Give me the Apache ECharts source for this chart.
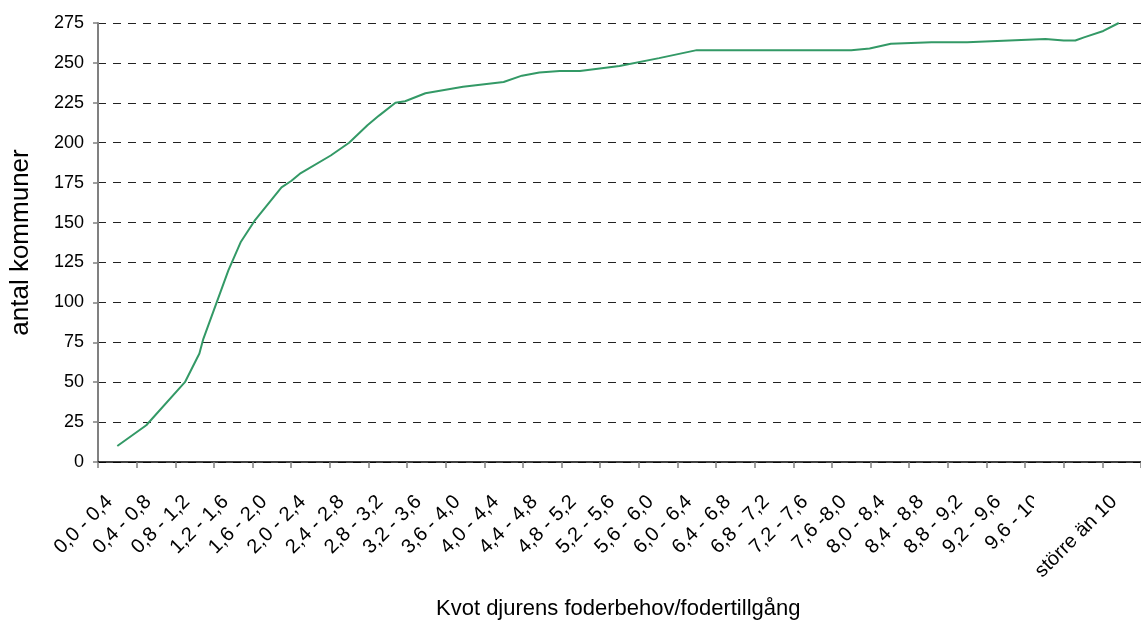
<!DOCTYPE html>
<html>
<head>
<meta charset="utf-8">
<script src="https://cdn.jsdelivr.net/npm/echarts@6/dist/echarts.min.js"></script>
<style>
  html, body { margin: 0; padding: 0; background: #fff; }
  #chart { width: 1141px; height: 624px; }
</style>
</head>
<body>
<div id="chart"></div>
<script>
// category labels along the x axis (index 25 has no label in the source)
const categories = [
  '0,0 - 0,4', '0,4 - 0,8', '0,8 - 1,2', '1,2 - 1,6', '1,6 - 2,0', '2,0 - 2,4',
  '2,4 - 2,8', '2,8 - 3,2', '3,2 - 3,6', '3,6 - 4,0', '4,0 - 4,4', '4,4 - 4,8',
  '4,8 - 5,2', '5,2 - 5,6', '5,6 - 6,0', '6,0 - 6,4', '6,4 - 6,8', '6,8 - 7,2',
  '7,2 - 7,6', '7,6 -8,0', '8,0 - 8,4', '8,4 - 8,8', '8,8 - 9,2', '9,2 - 9,6',
  '9,6 - 10', '', 'större än 10'
]

// cumulative curve: quotient (x) and number of municipalities (y)
const kvot = [
  0.2, 0.5, 0.9, 1.05, 1.09, 1.35, 1.48, 1.62, 1.9, 2.0,
  2.1, 2.41, 2.6, 2.79, 2.91, 3.08, 3.18, 3.39, 3.78, 4.2,
  4.39, 4.57, 4.78, 4.99, 5.4, 5.81, 6.2, 7.8, 7.99, 8.21,
  8.63, 9.0, 9.81, 10.0, 10.12, 10.21, 10.41, 10.57
]
const antal = [
  10, 23, 50, 68, 77, 120, 138, 151, 172, 176,
  181, 192, 200, 211, 217, 225, 226, 231, 235, 238,
  242, 244, 245, 245, 248, 253, 258, 258, 259, 262,
  263, 263, 265, 264, 264, 266, 270, 275
]

const yMax = 275
const yStep = 25

const chart = echarts.init(document.getElementById('chart'))

chart.setOption({
  animation: false,
  backgroundColor: '#fff',
  textStyle: { fontFamily: 'Liberation Sans, Arial, sans-serif' },
  grid: { left: 96, right: -3, top: 23, bottom: 162 },
  title: {
    text: 'Kvot djurens foderbehov/fodertillgång',
    left: 436,
    top: 598,
    padding: 0,
    textStyle: { fontSize: 22, fontWeight: 'normal', color: '#000' }
  },
  xAxis: [
    {
      type: 'category',
      data: categories,
      boundaryGap: true,
      axisLine: { lineStyle: { color: '#000', width: 1.5 } },
      axisTick: { show: true, length: 6, lineStyle: { color: '#808080', width: 1.5 } },
      axisLabel: {
        interval: 0, rotate: 45, fontSize: 20, color: '#000',
        margin: 29, padding: [0, 11, 0, 0]
      },
      splitLine: { show: false }
    },
    {
      type: 'value',
      min: 0,
      max: categories.length * 0.4,
      show: false
    }
  ],
  yAxis: {
    type: 'value',
    min: 0,
    max: yMax,
    interval: yStep,
    name: 'antal kommuner',
    nameLocation: 'middle',
    nameGap: 64,
    nameTextStyle: { fontSize: 26, color: '#000' },
    axisLine: { show: true, lineStyle: { color: '#808080', width: 2 } },
    axisTick: { show: true, length: 5, lineStyle: { color: '#808080', width: 1.5 } },
    axisLabel: { fontSize: 18, color: '#000', margin: 14 },
    splitLine: { show: true, lineStyle: { color: '#222', width: 1, type: [8, 7] } }
  },
  series: [{
    type: 'line',
    xAxisIndex: 1,
    data: kvot.map((k, i) => [k, antal[i]]),
    showSymbol: false,
    lineStyle: { color: '#339966', width: 2 },
    z: 5
  }],
  graphic: [{
    // white box that cuts off the end of the "9,6 - 10" label, as in the source
    type: 'rect',
    shape: { x: 1034, y: 468, width: 20, height: 60 },
    style: { fill: '#fff' },
    z: 100
  }]
})
</script>
</body>
</html>
